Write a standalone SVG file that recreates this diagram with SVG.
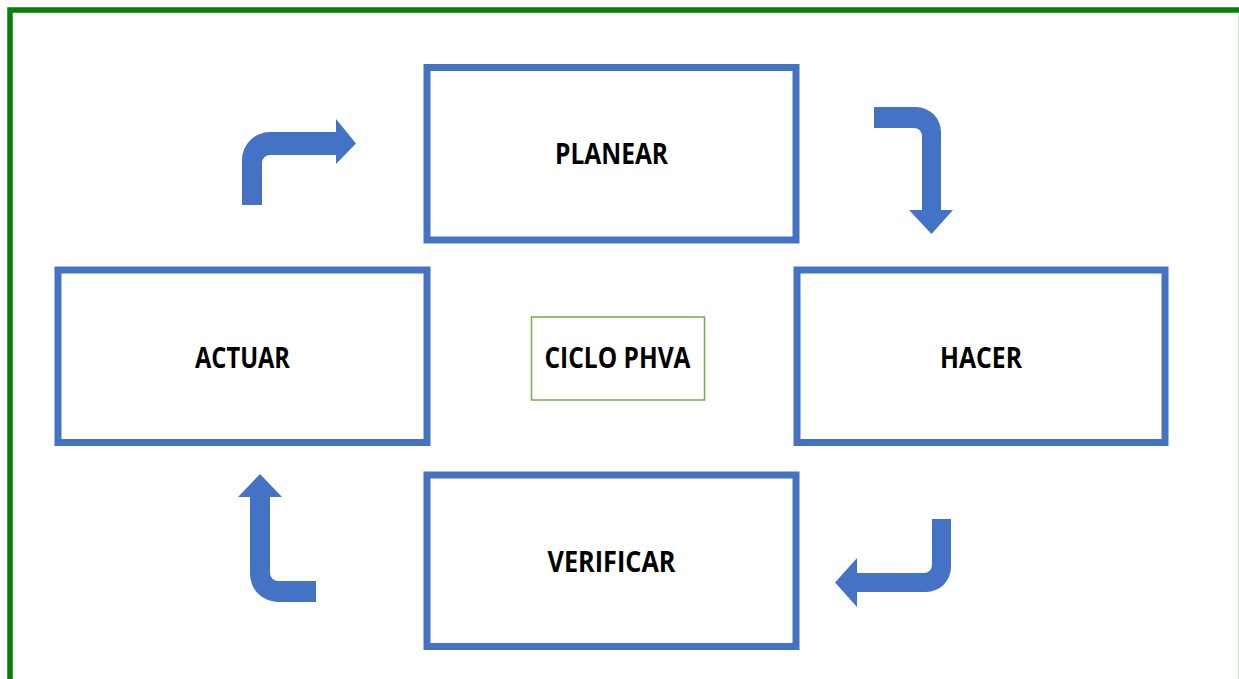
<svg xmlns="http://www.w3.org/2000/svg" width="1239" height="679" viewBox="0 0 1239 679">
<style>
.box{fill:#fff;stroke:#4472C4;stroke-width:7}
.lbl{font-family:"Open Sans","Liberation Sans",sans-serif;font-weight:bold;font-size:28px;fill:#000;text-anchor:middle}
.arr{fill:#4472C4}
</style>
<rect x="0" y="0" width="1239" height="679" fill="#fff"/>
<rect x="10" y="10" width="1250" height="690" fill="none" stroke="#068006" stroke-width="5.5"/>
<line x1="1238.5" y1="13" x2="1238.5" y2="679" stroke="#cfe6cf" stroke-width="1"/>
<g id="planear">
<rect class="box" x="427" y="67.5" width="369" height="172.5"/>
<text class="lbl" x="611.5" y="164" textLength="113" lengthAdjust="spacingAndGlyphs">PLANEAR</text>
</g>
<g id="hacer">
<rect class="box" x="797" y="270" width="368" height="172.5"/>
<text class="lbl" x="981" y="368" textLength="82" lengthAdjust="spacingAndGlyphs">HACER</text>
</g>
<g id="verificar">
<rect class="box" x="427" y="475" width="369" height="171.5"/>
<text class="lbl" x="611.5" y="572" textLength="128" lengthAdjust="spacingAndGlyphs">VERIFICAR</text>
</g>
<g id="actuar">
<rect class="box" x="58" y="270" width="369" height="172.5"/>
<text class="lbl" x="242.5" y="368" textLength="95" lengthAdjust="spacingAndGlyphs">ACTUAR</text>
</g>
<g id="ciclo">
<rect x="531.5" y="317" width="173" height="83" fill="#fff" stroke="#70AD47" stroke-width="1.5"/>
<text class="lbl" x="617.5" y="368" textLength="146" lengthAdjust="spacingAndGlyphs">CICLO PHVA</text>
</g>
<g id="connectors">
<path class="arr" d="M242,205 V160 A28,28 0 0 1 270,132 H336 V119 L356,143.5 L336,164 V155 H270 A8,8 0 0 0 262,163 V205 Z"/>
<path class="arr" d="M874,107 H916 A25,25 0 0 1 941,132 V210 H953 L931.5,234 L909,210 H922 V136 A8,8 0 0 0 914,128 H874 Z"/>
<path class="arr" d="M932,519 H951 V567 A25,25 0 0 1 926,592 H857 V607 L835,582.5 L857,558 V573 H924 A8,8 0 0 0 932,565 Z"/>
<path class="arr" d="M316,602 H278 A28,28 0 0 1 250,574 V497 H238 L260,474 L282,497 H270 V573 A8,8 0 0 0 278,581 H316 Z"/>
</g>
</svg>
